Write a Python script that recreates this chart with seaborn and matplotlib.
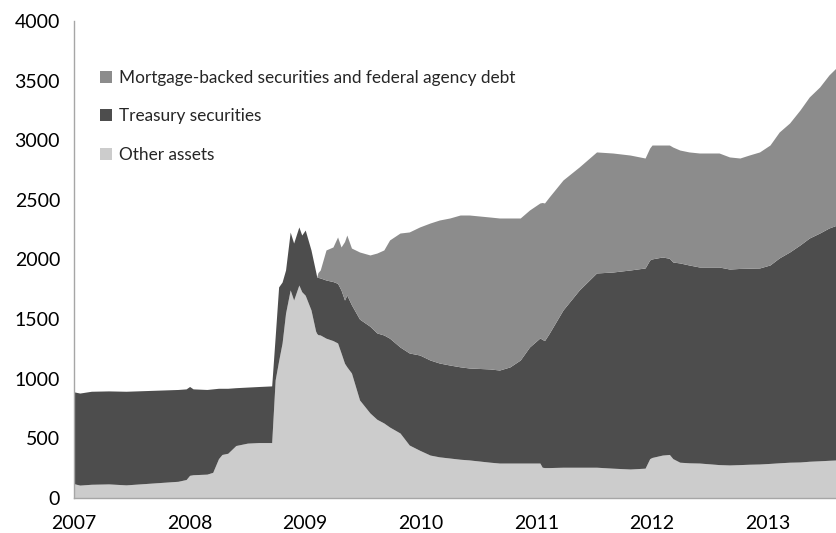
import matplotlib
matplotlib.use("Agg")
import matplotlib.pyplot as plt
import seaborn as sns
from matplotlib.patches import Patch

# time as fractional years
years = [2007.00, 2007.05, 2007.15, 2007.30, 2007.45, 2007.60, 2007.75, 2007.90, 2007.97,
         2008.00, 2008.03, 2008.15, 2008.20, 2008.25, 2008.28, 2008.33, 2008.40, 2008.50,
         2008.60, 2008.71, 2008.74, 2008.77, 2008.80, 2008.83, 2008.87, 2008.90, 2008.945,
         2008.97, 2009.00, 2009.05, 2009.09, 2009.10, 2009.11, 2009.13, 2009.18, 2009.24,
         2009.28, 2009.31, 2009.34, 2009.36, 2009.40, 2009.47, 2009.56, 2009.62, 2009.68,
         2009.73, 2009.82, 2009.90, 2009.99, 2010.08, 2010.16, 2010.25, 2010.34, 2010.42,
         2010.60, 2010.68, 2010.77, 2010.86, 2010.94, 2011.03, 2011.05, 2011.07, 2011.11,
         2011.23, 2011.37, 2011.52, 2011.66, 2011.81, 2011.94, 2011.98, 2012.00, 2012.09,
         2012.15, 2012.18, 2012.24, 2012.32, 2012.41, 2012.58, 2012.67, 2012.76, 2012.84,
         2012.93, 2013.02, 2013.10, 2013.19, 2013.28, 2013.36, 2013.45, 2013.53, 2013.60]

other_assets = [120, 108, 115, 118, 110, 120, 130, 140, 155,
                190, 195, 200, 215, 330, 365, 375, 440, 460,
                465, 465, 990, 1150, 1300, 1550, 1745, 1660, 1786,
                1730, 1700, 1577, 1400, 1380, 1370, 1367, 1340, 1320,
                1300, 1216, 1130, 1100, 1048, 822, 713, 660, 629,
                595, 545, 444, 400, 360, 345, 335, 325, 319,
                300, 293, 293, 293, 293, 293, 258, 255, 255,
                258, 258, 258, 250, 243, 250, 330, 340, 360,
                365, 330, 300, 295, 293, 280, 277, 280, 283,
                285, 290, 295, 300, 302, 308, 312, 316, 319]

treasury = [770, 772, 780, 780, 785, 780, 775, 770, 760,
            745, 720, 710, 700, 590, 555, 545, 485, 470,
            470, 475, 360, 620, 511, 362, 485, 478, 487,
            475, 547, 503, 500, 473, 480, 478, 488, 495,
            500, 528, 530, 602, 572, 678, 727, 724, 738,
            745, 721, 772, 799, 797, 787, 780, 775, 771,
            782, 780, 806, 864, 973, 1049, 1072, 1065, 1125,
            1319, 1486, 1629, 1645, 1669, 1679, 1666, 1665, 1661,
            1645, 1649, 1671, 1659, 1644, 1657, 1643, 1645, 1644,
            1644, 1664, 1718, 1763, 1820, 1872, 1910, 1948, 1970]

mbs_agency = [0, 0, 0, 0, 0, 0, 0, 0, 0,
              0, 0, 0, 0, 0, 0, 0, 0, 0,
              0, 0, 0, 0, 0, 0, 0, 0, 0,
              0, 0, 0, 0, 0, 40, 67, 252, 290,
              389, 361, 490, 503, 476, 563, 598, 670, 713,
              824, 956, 1015, 1074, 1149, 1199, 1233, 1273, 1283,
              1274, 1275, 1249, 1191, 1149, 1132, 1148, 1154, 1144,
              1090, 1032, 1015, 998, 964, 922, 939, 955, 939,
              950, 964, 947, 948, 956, 956, 940, 926, 949,
              973, 1006, 1056, 1082, 1132, 1183, 1225, 1283, 1325]

labels = ["Other assets", "Treasury securities",
          "Mortgage-backed securities and federal agency debt"]
year_ticks = [2007, 2008, 2009, 2010, 2011, 2012, 2013]
y_ticks = [0, 500, 1000, 1500, 2000, 2500, 3000, 3500, 4000]

sns.set_style("white")
plt.rcParams['font.family'] = ['Lato', 'DejaVu Sans']

colors = ["#cccccc", "#4d4d4d", "#8c8c8c"]

fig = plt.figure(figsize=(8.37, 5.33), dpi=100)
ax = fig.add_axes([0.0884, 0.0657, 0.9116, 0.8949])

ax.stackplot(years, other_assets, treasury, mbs_agency, colors=colors,
             linewidth=0, antialiased=True)

ax.set_xlim(2007, 2013.6)
ax.set_ylim(0, 4000)
ax.set_xticks(year_ticks)
ax.set_xticklabels([str(y) for y in year_ticks])
ax.set_yticks(y_ticks)

for s in ["top", "right"]:
    ax.spines[s].set_visible(False)
for s in ["left", "bottom"]:
    ax.spines[s].set_color("#a6a6a6")
    ax.spines[s].set_linewidth(1.0)

ax.tick_params(axis="both", which="major", direction="out", length=5,
               color="#a6a6a6", width=1, labelsize=14, labelcolor="black")
ax.tick_params(axis="x", pad=7)
ax.tick_params(axis="y", pad=5)
ax.grid(False)

handles = [Patch(facecolor=colors[2], edgecolor="none"),
           Patch(facecolor=colors[1], edgecolor="none"),
           Patch(facecolor=colors[0], edgecolor="none")]
ax.legend(handles, [labels[2], labels[1], labels[0]],
          loc="upper left", bbox_to_anchor=(0.025, 0.912), frameon=False,
          fontsize=12.4, handlelength=0.7, handleheight=0.7, handletextpad=0.4,
          labelspacing=1.3, borderaxespad=0)

fig.savefig("out.png", dpi=100)
